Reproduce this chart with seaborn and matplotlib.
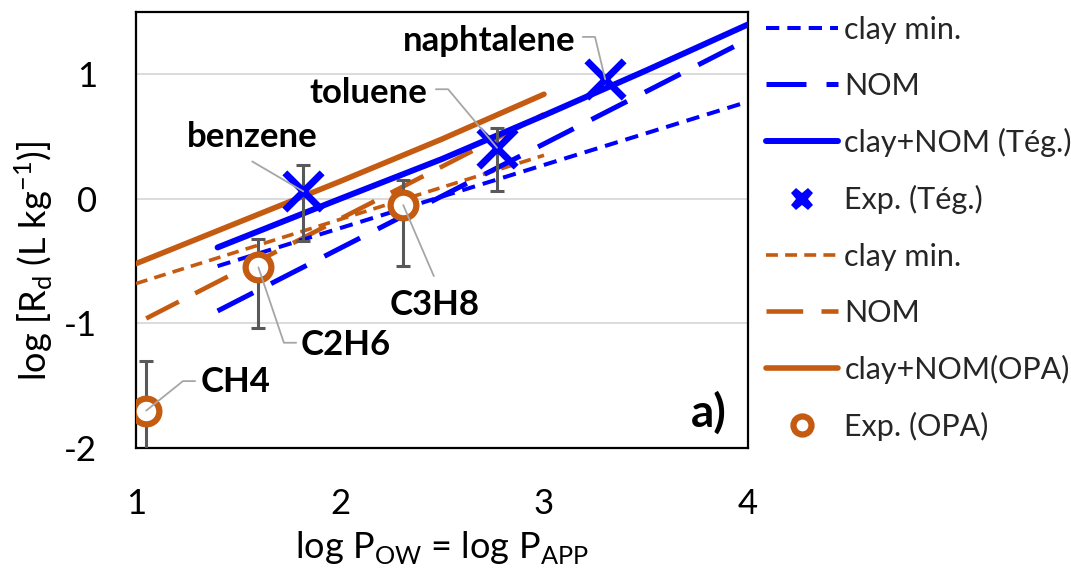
import matplotlib
matplotlib.use("Agg")
import matplotlib.pyplot as plt
import seaborn as sns
import numpy as np
from matplotlib.lines import Line2D

# ---------------- data ----------------
teg_clay_x = [1.4, 4.0]
teg_clay_y = [-0.54, 0.78]
teg_nom_x = [1.4, 4.0]
teg_nom_y = [-0.90, 1.28]
teg_sum_x = [1.4, 2.0, 2.5, 3.0, 3.5, 4.0]
teg_sum_y = [-0.39, 0.0, 0.32, 0.67, 1.03, 1.40]

opa_clay_x = [1.0, 3.0]
opa_clay_y = [-0.68, 0.35]
opa_nom_x = [1.05, 3.0]
opa_nom_y = [-0.96, 0.68]
opa_sum_x = [1.0, 1.5, 2.0, 2.5, 3.0]
opa_sum_y = [-0.52, -0.19, 0.14, 0.48, 0.84]

teg_names = ["benzene", "toluene", "naphtalene"]
teg_x = [1.82, 2.77, 3.30]
teg_y = [0.06, 0.41, 0.96]
teg_lo = [-0.34, 0.06, np.nan]
teg_hi = [0.27, 0.57, np.nan]

opa_names = ["CH4", "C2H6", "C3H8"]
opa_x = [1.05, 1.60, 2.31]
opa_y = [-1.70, -0.55, -0.05]
opa_lo = [-2.5, -1.035, -0.535]
opa_hi = [-1.30, -0.325, 0.155]

legend_labels = ["clay min.", "NOM", "clay+NOM (Tég.)", "Exp. (Tég.)",
                 "clay min.", "NOM", "clay+NOM(OPA)", "Exp. (OPA)"]

BLUE = "#0000FF"
ORANGE = "#C55A11"
GREY = "#595959"
LEAD = "#A6A6A6"

SHORT = (0, (3.3, 2.0))
LONG = (0, (8, 4))

sns.set_theme(style="white")
plt.rcParams["font.family"] = ["Lato", "DejaVu Sans"]
plt.rcParams["mathtext.fontset"] = "custom"
plt.rcParams["mathtext.rm"] = "Lato"

fig = plt.figure(figsize=(10.71, 5.73), dpi=100)
ax = fig.add_axes([136 / 1071, 1 - 448 / 573, (748 - 136) / 1071, (448 - 12) / 573])

# lines
sns.lineplot(x=opa_clay_x, y=opa_clay_y, ax=ax, color=ORANGE, linewidth=2.6,
             linestyle=SHORT, zorder=3)
sns.lineplot(x=opa_nom_x, y=opa_nom_y, ax=ax, color=ORANGE, linewidth=3.3,
             linestyle=LONG, zorder=3)
sns.lineplot(x=opa_sum_x, y=opa_sum_y, ax=ax, color=ORANGE, linewidth=4.0, zorder=3)
sns.lineplot(x=teg_clay_x, y=teg_clay_y, ax=ax, color=BLUE, linewidth=2.9,
             linestyle=SHORT, zorder=3)
sns.lineplot(x=teg_nom_x, y=teg_nom_y, ax=ax, color=BLUE, linewidth=3.6,
             linestyle=LONG, zorder=3)
sns.lineplot(x=teg_sum_x, y=teg_sum_y, ax=ax, color=BLUE, linewidth=4.3, zorder=4)

# error bars
for xs, ys, lo, hi in [(teg_x, teg_y, teg_lo, teg_hi), (opa_x, opa_y, opa_lo, opa_hi)]:
    xs = np.array(xs); ys = np.array(ys); lo = np.array(lo); hi = np.array(hi)
    m = ~np.isnan(lo)
    ax.errorbar(xs[m], ys[m], yerr=[ys[m] - lo[m], hi[m] - ys[m]], fmt="none",
                ecolor=GREY, elinewidth=2.2, capsize=5, capthick=2.2, zorder=5)

# markers
sns.scatterplot(x=teg_x, y=teg_y, ax=ax, marker="x", s=720, color=BLUE,
                linewidth=5, zorder=6)
ax.plot(opa_x, opa_y, "o", ms=18.5, mfc="white", mec=ORANGE, mew=4.5, zorder=6,
        linestyle="none")

# leader lines and labels
leaders = [
    [(3.19, 1.30), (3.25, 1.30), (3.30, 0.96)],
    [(2.47, 0.88), (2.53, 0.88), (2.77, 0.41)],
    [(1.57, 0.30), (1.82, 0.06)],
    [(2.31, -0.05), (2.46, -0.62)],
    [(1.60, -0.55), (1.725, -1.155), (1.785, -1.155)],
    [(1.05, -1.70), (1.23, -1.463), (1.29, -1.463)],
]
for pts in leaders:
    px, py = zip(*pts)
    ax.plot(px, py, color=LEAD, lw=1.3, zorder=7)

label_pos = {
    "naphtalene": (2.73, 1.27),
    "toluene": (2.14, 0.85),
    "benzene": (1.57, 0.50),
    "C3H8": (2.465, -0.85),
    "C2H6": (2.03, -1.17),
    "CH4": (1.49, -1.47),
}
for name, (tx, ty) in label_pos.items():
    ax.text(tx, ty, name, ha="center", va="center", fontsize=25,
            fontweight="bold", color="black", zorder=8)
ax.text(3.81, -1.72, "a)", ha="center", va="center", fontsize=33,
        fontweight="bold", color="black", zorder=8)

# axes styling
ax.set_xlim(1, 4)
ax.set_ylim(-2, 1.5)
ax.set_xticks([1, 2, 3, 4])
ax.set_yticks([-2, -1, 0, 1])
ax.set_yticklabels(["-2", "-1", "0", "1"])
for yv in [-1, 0, 1]:
    ax.axhline(yv, color="#D9D9D9", lw=1.3, zorder=1)
for s in ax.spines.values():
    s.set_color("black")
    s.set_linewidth(1.6)
ax.tick_params(axis="both", direction="out", length=9, width=1.5, color="black",
               labelsize=25, labelcolor="black")
ax.tick_params(axis="x", pad=20)
ax.tick_params(axis="y", pad=19)
ax.set_xlabel(r"log P$_{\mathregular{OW}}$ = log P$_{\mathregular{APP}}$", fontsize=26,
              color="black")
ax.set_ylabel(r"log [R$_{\mathregular{d}}$ (L kg$^{\mathregular{-1}}$)]", fontsize=26,
              color="black")
ax.xaxis.set_label_coords(0.5, -0.185)
ax.yaxis.set_label_coords(-0.133, 0.43)
ax.set_facecolor("white")
if ax.get_legend():
    ax.get_legend().remove()

# legend
handles = [
    Line2D([], [], color=BLUE, lw=2.9, linestyle=SHORT),
    Line2D([], [], color=BLUE, lw=3.6, linestyle=LONG),
    Line2D([], [], color=BLUE, lw=4.3),
    Line2D([], [], color=BLUE, marker="X", ms=16, mew=0, linestyle="none"),
    Line2D([], [], color=ORANGE, lw=2.6, linestyle=SHORT),
    Line2D([], [], color=ORANGE, lw=3.3, linestyle=LONG),
    Line2D([], [], color=ORANGE, lw=4.0),
    Line2D([], [], color=ORANGE, marker="o", ms=13, mfc="white", mec=ORANGE, mew=4.5,
           linestyle="none"),
]
fig.legend(handles, legend_labels, loc="upper left", bbox_to_anchor=(760 / 1071, 0.983),
           frameon=False, fontsize=22, handlelength=2.36, labelspacing=0.92,
           handletextpad=0.2, borderaxespad=0.0, borderpad=0.2)

fig.savefig("out.png", dpi=100, facecolor="white")
